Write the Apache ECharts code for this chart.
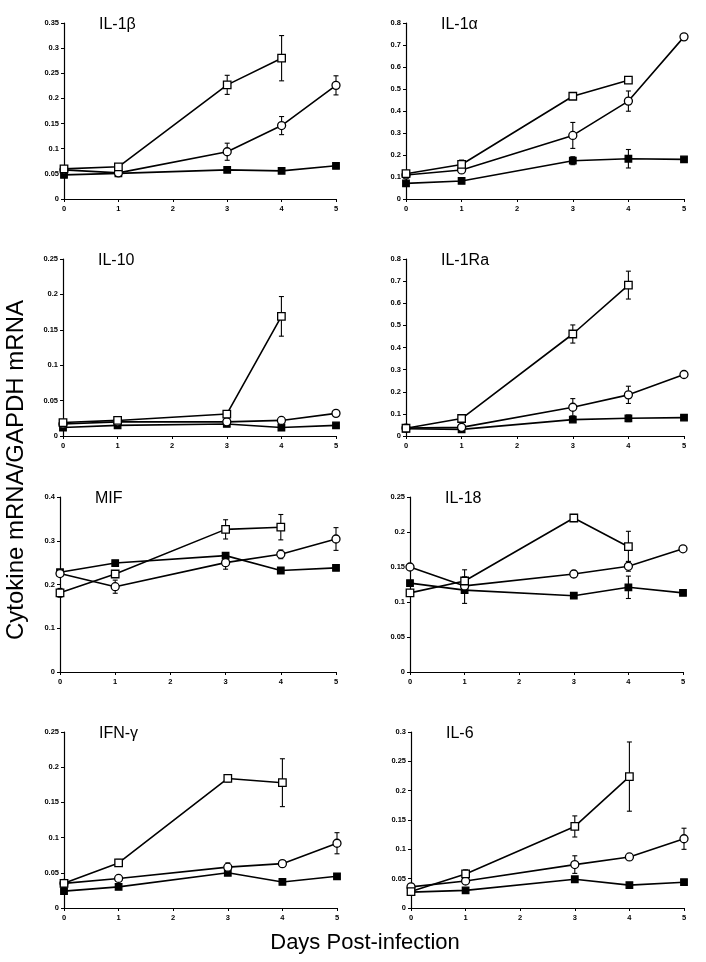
<!DOCTYPE html>
<html>
<head>
<meta charset="utf-8">
<script src="https://cdn.jsdelivr.net/npm/echarts@6/dist/echarts.min.js"></script>
<style>html,body{margin:0;padding:0;background:#fff}#c{width:706px;height:962px}</style>
</head>
<body>
<div id="c"></div>
<script>
// ---------- data ----------
const days = [0, 1, 3, 4, 5];
const xTicks = [0, 1, 2, 3, 4, 5];
const panelNames = ['IL-1β', 'IL-1α', 'IL-10', 'IL-1Ra', 'MIF', 'IL-18', 'IFN-γ', 'IL-6'];
const yMax  = [0.35, 0.8, 0.25, 0.8, 0.4, 0.25, 0.25, 0.3];
const yStep = [0.05, 0.1, 0.05, 0.1, 0.1, 0.05, 0.05, 0.05];

// open squares / open circles / filled squares, with error values
const il1bSq   = [0.060, 0.064, 0.227, 0.280, null];
const il1bSqE  = [0, 0, 0.019, 0.045, null];
const il1bCi   = [0.058, 0.052, 0.094, 0.146, 0.226];
const il1bCiE  = [0, 0, 0.017, 0.018, 0.019];
const il1bFi   = [0.048, 0.051, 0.058, 0.056, 0.066];
const il1bFiE  = [0, 0, 0, 0, 0];

const il1aSq   = [0.115, 0.157, 0.467, 0.540, null];
const il1aSqE  = [0, 0.02, 0.012, 0.015, null];
const il1aCi   = [0.109, 0.132, 0.289, 0.445, 0.737];
const il1aCiE  = [0, 0, 0.059, 0.046, 0];
const il1aFi   = [0.071, 0.082, 0.174, 0.183, 0.180];
const il1aFiE  = [0, 0, 0.018, 0.042, 0];

const il10Sq   = [0.019, 0.022, 0.031, 0.169, null];
const il10SqE  = [0, 0, 0.003, 0.028, null];
const il10Ci   = [0.017, 0.020, 0.020, 0.022, 0.032];
const il10CiE  = [0, 0, 0, 0, 0];
const il10Fi   = [0.012, 0.015, 0.017, 0.012, 0.015];
const il10FiE  = [0, 0, 0, 0, 0];

const il1raSq  = [0.035, 0.079, 0.461, 0.682, null];
const il1raSqE = [0, 0, 0.041, 0.063, null];
const il1raCi  = [0.036, 0.039, 0.130, 0.186, 0.278];
const il1raCiE = [0, 0, 0.039, 0.039, 0];
const il1raFi  = [0.033, 0.030, 0.074, 0.080, 0.083];
const il1raFiE = [0, 0, 0, 0.015, 0];

const mifSq    = [0.181, 0.224, 0.326, 0.331, null];
const mifSqE   = [0.01, 0, 0.022, 0.029, null];
const mifCi    = [0.225, 0.195, 0.250, 0.269, 0.304];
const mifCiE   = [0, 0.015, 0.015, 0.01, 0.026];
const mifFi    = [0.228, 0.249, 0.266, 0.232, 0.238];
const mifFiE   = [0, 0, 0, 0, 0];

const il18Sq   = [0.113, 0.130, 0.220, 0.179, null];
const il18SqE  = [0, 0.016, 0.005, 0.022, null];
const il18Ci   = [0.150, 0.123, 0.140, 0.151, 0.176];
const il18CiE  = [0, 0, 0.005, 0.007, 0];
const il18Fi   = [0.127, 0.117, 0.109, 0.121, 0.113];
const il18FiE  = [0, 0.019, 0, 0.016, 0];

const ifngSq   = [0.035, 0.064, 0.184, 0.178, null];
const ifngSqE  = [0, 0.005, 0.005, 0.034, null];
const ifngCi   = [0.035, 0.042, 0.058, 0.063, 0.092];
const ifngCiE  = [0, 0, 0.006, 0, 0.015];
const ifngFi   = [0.024, 0.030, 0.050, 0.037, 0.045];
const ifngFiE  = [0, 0, 0, 0, 0];

const il6Sq    = [0.028, 0.058, 0.139, 0.224, null];
const il6SqE   = [0, 0.007, 0.018, 0.059, null];
const il6Ci    = [0.036, 0.046, 0.074, 0.087, 0.118];
const il6CiE   = [0, 0, 0.015, 0, 0.018];
const il6Fi    = [0.027, 0.030, 0.049, 0.039, 0.044];
const il6FiE   = [0, 0, 0, 0, 0];

const squares   = [il1bSq, il1aSq, il10Sq, il1raSq, mifSq, il18Sq, ifngSq, il6Sq];
const squaresE  = [il1bSqE, il1aSqE, il10SqE, il1raSqE, mifSqE, il18SqE, ifngSqE, il6SqE];
const circles   = [il1bCi, il1aCi, il10Ci, il1raCi, mifCi, il18Ci, ifngCi, il6Ci];
const circlesE  = [il1bCiE, il1aCiE, il10CiE, il1raCiE, mifCiE, il18CiE, ifngCiE, il6CiE];
const filled    = [il1bFi, il1aFi, il10Fi, il1raFi, mifFi, il18Fi, ifngFi, il6Fi];
const filledE   = [il1bFiE, il1aFiE, il10FiE, il1raFiE, mifFiE, il18FiE, ifngFiE, il6FiE];

// ---------- layout ----------
const grids = [
  {left: 64,  top: 23,  width: 272, height: 176},
  {left: 406, top: 23,  width: 278, height: 176},
  {left: 63,  top: 259, width: 273, height: 177},
  {left: 406, top: 259, width: 278, height: 177},
  {left: 60,  top: 497, width: 276, height: 175},
  {left: 410, top: 497, width: 273, height: 175},
  {left: 64,  top: 732, width: 273, height: 176},
  {left: 411, top: 732, width: 273, height: 176}
];

const FONT = 'Liberation Sans, Arial, Helvetica, sans-serif';
const chart = echarts.init(document.getElementById('c'), null, {renderer: 'canvas'});

const xAxes = [], yAxes = [], series = [], titles = [];
grids.forEach((g, i) => {
  xAxes.push({
    gridIndex: i, type: 'value', min: xTicks[0], max: xTicks[xTicks.length - 1], interval: 1,
    axisLine: {onZero: false, lineStyle: {color: '#000', width: 1.2}},
    axisTick: {show: true, length: 3, lineStyle: {color: '#000'}},
    axisLabel: {color: '#000', fontSize: 7.5, fontWeight: 'bold', fontFamily: FONT, margin: 6},
    splitLine: {show: false}
  });
  yAxes.push({
    gridIndex: i, type: 'value', min: 0, max: yMax[i], interval: yStep[i],
    axisLine: {show: true, lineStyle: {color: '#000', width: 1.2}},
    axisTick: {show: true, length: 3, lineStyle: {color: '#000'}},
    axisLabel: {color: '#000', fontSize: 7.5, fontWeight: 'bold', fontFamily: FONT, margin: 5},
    splitLine: {show: false}
  });
  titles.push({
    text: panelNames[i], left: g.left + 35, top: g.top - 6, padding: 0,
    textStyle: {fontSize: 16, fontWeight: 'normal', color: '#000', fontFamily: FONT}
  });

  const groups = [
    {v: filled[i],  e: filledE[i],  sym: 'rect',   size: 6.5, fill: '#000'},
    {v: circles[i], e: circlesE[i], sym: 'circle', size: 8,   fill: '#fff'},
    {v: squares[i], e: squaresE[i], sym: 'rect',   size: 7.5, fill: '#fff'}
  ];
  groups.forEach(gr => {
    const errData = [];
    const lineData = [];
    days.forEach((d, j) => {
      if (gr.v[j] == null) return;
      lineData.push([d, gr.v[j]]);
      if (gr.e[j]) errData.push([d, gr.v[j], gr.e[j]]);
    });
    series.push({
      type: 'custom', xAxisIndex: i, yAxisIndex: i, z: 1, silent: true,
      data: errData,
      renderItem: function (params, api) {
        const x = api.value(0), y = api.value(1), e = api.value(2);
        const top = api.coord([x, y + e]);
        const bot = api.coord([x, y - e]);
        const w = 2.5;
        const st = {stroke: '#000', lineWidth: 1.1};
        return {
          type: 'group',
          children: [
            {type: 'line', shape: {x1: top[0], y1: top[1], x2: bot[0], y2: bot[1]}, style: st},
            {type: 'line', shape: {x1: top[0] - w, y1: top[1], x2: top[0] + w, y2: top[1]}, style: st},
            {type: 'line', shape: {x1: bot[0] - w, y1: bot[1], x2: bot[0] + w, y2: bot[1]}, style: st}
          ]
        };
      }
    });
    series.push({
      type: 'line', xAxisIndex: i, yAxisIndex: i, z: 2,
      data: lineData,
      symbol: gr.sym, symbolSize: gr.size, showAllSymbol: true,
      lineStyle: {color: '#000', width: 1.6},
      itemStyle: {color: gr.fill, borderColor: '#000', borderWidth: 1.3},
      emphasis: {disabled: true},
      animation: false
    });
  });
});

chart.setOption({
  animation: false,
  backgroundColor: '#fff',
  title: titles,
  grid: grids,
  xAxis: xAxes,
  yAxis: yAxes,
  series: series,
  graphic: [
    {type: 'text', x: 16, y: 470, rotation: Math.PI / 2,
     style: {text: 'Cytokine mRNA/GAPDH mRNA', fontSize: 24, fontFamily: FONT, fill: '#000',
             textAlign: 'center', textVerticalAlign: 'middle'}},
    {type: 'text', x: 365, y: 943,
     style: {text: 'Days Post-infection', fontSize: 22, fontFamily: FONT, fill: '#000',
             textAlign: 'center', textVerticalAlign: 'middle'}}
  ]
});
</script>
</body>
</html>
